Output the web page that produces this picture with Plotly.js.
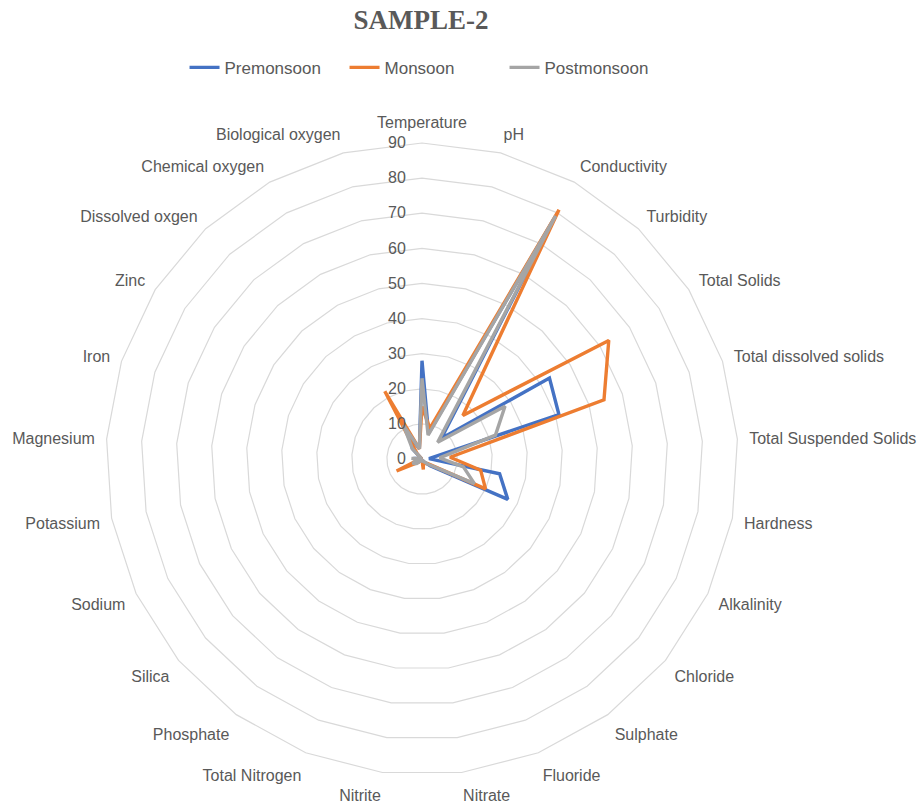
<!DOCTYPE html>
<html>
<head>
<meta charset="utf-8">
<script src="https://cdn.plot.ly/plotly-3.0.1.min.js"></script>
<style>html,body{margin:0;padding:0;background:#fff;}#chart{width:920px;height:805px;}</style>
</head>
<body>
<div id="chart"></div>
<script>
var categories = ["Temperature","pH","Conductivity","Turbidity","Total Solids","Total dissolved solids","Total Suspended Solids","Hardness","Alkalinity","Chloride","Sulphate","Fluoride","Nitrate","Nitrite","Total Nitrogen","Phosphate","Silica","Sodium","Potassium","Magnesium","Iron","Zinc","Dissolved oxgen","Chemical oxygen","Biological oxygen"];
var premonsoon  = [28, 7.5, 78, 8, 43, 41, 2, 22.5, 27, 3, 1, 0.5, 0.5, 0.1, 1, 0.5, 1.5, 2, 1, 2.5, 0.5, 0.1, 4, 7, 3];
var monsoon     = [15, 9, 81, 17, 63, 54.5, 8, 17, 20, 2, 1.5, 1, 3, 0.2, 1, 0.5, 1.5, 8, 1, 1.5, 0.5, 0.1, 2, 22, 3];
var postmonsoon = [23, 7, 79, 6.5, 28, 22, 5, 12, 16.5, 2.5, 1, 0.5, 1, 0.1, 1, 0.5, 2, 3, 1, 3, 0.5, 0.1, 4, 11, 3];
var seriesNames = ["Premonsoon","Monsoon","Postmonsoon"];
var seriesColors = ["#4472C4","#ED7D31","#A5A5A5"];
var radialTicks = [0,10,20,30,40,50,60,70,80,90];

function closed(arr){ return arr.concat([arr[0]]); }
var allSeries = [premonsoon, monsoon, postmonsoon];
var traces = allSeries.map(function(vals, i){
  return {
    type: 'scatterpolar',
    mode: 'lines',
    name: seriesNames[i],
    r: closed(vals),
    theta: closed(categories),
    line: {color: seriesColors[i], width: 3.4, shape: 'linear'},
    hoverinfo: 'skip'
  };
});

var layout = {
  width: 920, height: 805,
  margin: {l: 106, r: 182, t: 143, b: 30},
  paper_bgcolor: '#ffffff',
  font: {family: 'Liberation Sans, Arial, sans-serif', color: '#595959', size: 16},
  title: {
    text: '<b>SAMPLE-2</b>',
    font: {family: 'Liberation Serif, Times New Roman, serif', size: 27, color: '#595959'},
    xref: 'container', yref: 'container',
    x: 0.4576, xanchor: 'center', y: 0.976, yanchor: 'middle'
  },
  showlegend: true,
  legend: {
    orientation: 'h', x: 0.504, xanchor: 'center', y: 1.119, yanchor: 'middle',
    font: {size: 17, color: '#595959'}, itemwidth: 30, bgcolor: 'rgba(0,0,0,0)',
    entrywidth: 115, entrywidthmode: 'pixels'
  },
  polar: {
    domain: {x: [0, 1], y: [0, 1]},
    gridshape: 'linear',
    bgcolor: '#ffffff',
    radialaxis: {
      range: [0, 90], tickvals: radialTicks, ticktext: radialTicks.map(String),
      showline: false, showgrid: true, gridcolor: '#d9d9d9', gridwidth: 1.2,
      ticks: 'outside', ticklen: 10, tickcolor: 'rgba(0,0,0,0)',
      angle: 90, tickangle: 90, side: 'counterclockwise',
      tickfont: {size: 16, color: '#595959'}
    },
    angularaxis: {
      direction: 'clockwise', rotation: 90,
      showgrid: false, showline: true, linecolor: '#d9d9d9', linewidth: 1.2,
      ticks: 'outside', ticklen: 8, tickcolor: 'rgba(0,0,0,0)',
      tickfont: {size: 16, color: '#595959'}
    }
  }
};

Plotly.newPlot('chart', traces, layout, {displayModeBar: false, staticPlot: true});
</script>
</body>
</html>
